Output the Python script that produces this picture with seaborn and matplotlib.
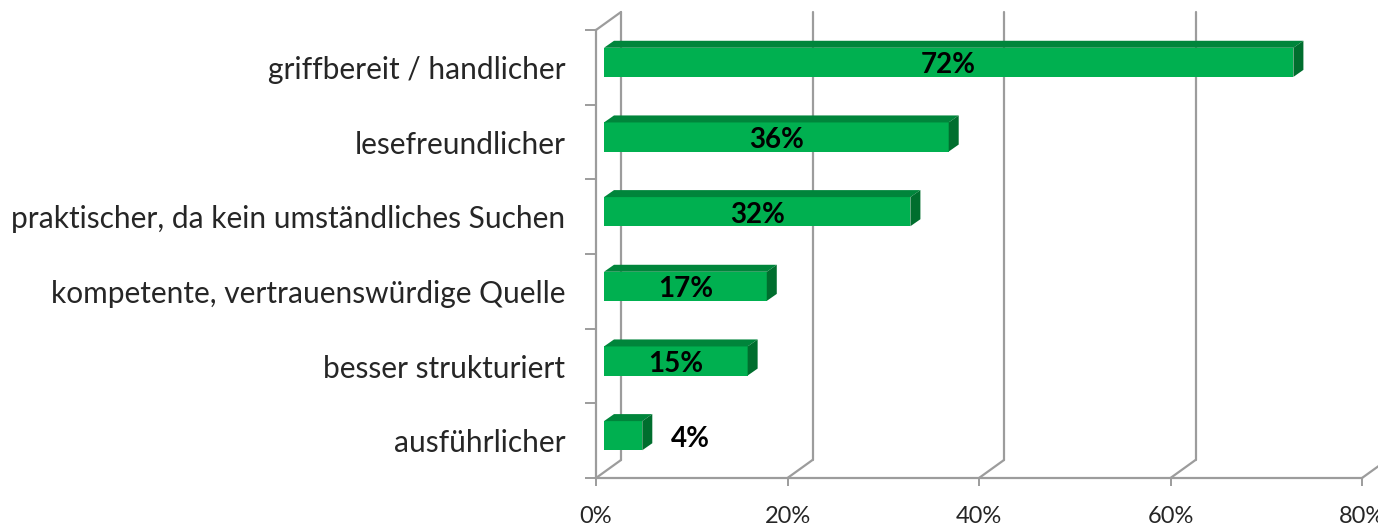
import matplotlib
matplotlib.use('Agg')
import matplotlib.pyplot as plt
import seaborn as sns
from matplotlib.patches import Polygon

# Daten
kategorien = ['griffbereit / handlicher', 'lesefreundlicher',
              'praktischer, da kein umständliches Suchen',
              'kompetente, vertrauenswürdige Quelle',
              'besser strukturiert', 'ausführlicher']
werte = [72, 36, 32, 17, 15, 4]
xticks = [0, 20, 40, 60, 80]

sns.set_style('white')
plt.rcParams['font.family'] = ['Lato', 'DejaVu Sans']

gruen_front = '#00B050'
gruen_top = '#00853B'
gruen_side = '#006E2E'
grau = '#9C9C9C'

fig = plt.figure(figsize=(13.78, 5.25), dpi=100)
ax = fig.add_axes([596 / 1378, 1 - 478 / 525, 766 / 1378, 448 / 525])

sns.barplot(x=werte, y=kategorien, orient='h', width=0.39,
            color=gruen_front, saturation=1, linewidth=0, ax=ax)
ax.set_xlim(0, 80)
ax.set_ylim(5.5, -0.5)

# pixel -> data umrechnung
px_x = 80 / 766
px_y = 6 / 448
# Rueckwand-Versatz
bx, by = 25 * px_x, -18 * px_y
# Versatz der Balken in die Tiefe, und Tiefe der Balken
ox, oy = 8 * px_x, -5 * px_y
dx, dy = 10 * px_x, -7 * px_y

# Rahmen / Gitter (3D Wand)
for v in xticks:
    ax.plot([v + bx, v + bx], [5.5 + by, -0.5 + by], color=grau, lw=1.6,
            clip_on=False, zorder=0)
    ax.plot([v, v + bx], [5.5, 5.5 + by], color=grau, lw=1.6,
            clip_on=False, zorder=0)
ax.plot([0, bx], [-0.5, -0.5 + by], color=grau, lw=1.6, clip_on=False, zorder=0)

# Balken in 3D-Optik
for p, v in zip(ax.patches, werte):
    y0 = p.get_y() + oy
    h = p.get_height()
    p.set_x(ox)
    p.set_y(y0)
    p.set_zorder(3)
    x0, x1 = ox, ox + v
    top = Polygon([(x0, y0), (x1, y0), (x1 + dx, y0 + dy), (x0 + dx, y0 + dy)],
                  closed=True, fc=gruen_top, ec='none', zorder=3, clip_on=False)
    side = Polygon([(x1, y0), (x1 + dx, y0 + dy), (x1 + dx, y0 + h + dy), (x1, y0 + h)],
                   closed=True, fc=gruen_side, ec='none', zorder=3, clip_on=False)
    ax.add_patch(top)
    ax.add_patch(side)
    yc = y0 + h / 2 + 3 * px_y
    if v >= 10:
        ax.text(ox + v / 2, yc, f'{v}%', ha='center', va='center',
                fontsize=20, fontweight='bold', color='black', zorder=5)
    else:
        ax.text(x1 + 5, yc, f'{v}%', ha='center', va='center',
                fontsize=20, fontweight='bold', color='black', zorder=5)

# Achsen
for s in ['top', 'right']:
    ax.spines[s].set_visible(False)
for s in ['left', 'bottom']:
    ax.spines[s].set_color(grau)
    ax.spines[s].set_linewidth(1.6)

ax.set_xticks(xticks)
ax.set_xticklabels([f'{t}%' for t in xticks])
ax.set_yticks(range(len(kategorien)))
ax.set_yticklabels(kategorien)
ax.set_yticks([i - 0.5 for i in range(len(kategorien) + 1)], minor=True)
ax.tick_params(axis='x', length=6, width=1.4, color=grau, pad=14,
               labelsize=17, bottom=True)
ax.tick_params(axis='y', which='major', length=0, pad=22, labelsize=21.5)
ax.tick_params(axis='y', which='minor', length=8, width=1.4, color=grau, left=True)
ax.set_xlabel('')
ax.set_ylabel('')
ax.grid(False)

fig.savefig('out.png', dpi=100)
